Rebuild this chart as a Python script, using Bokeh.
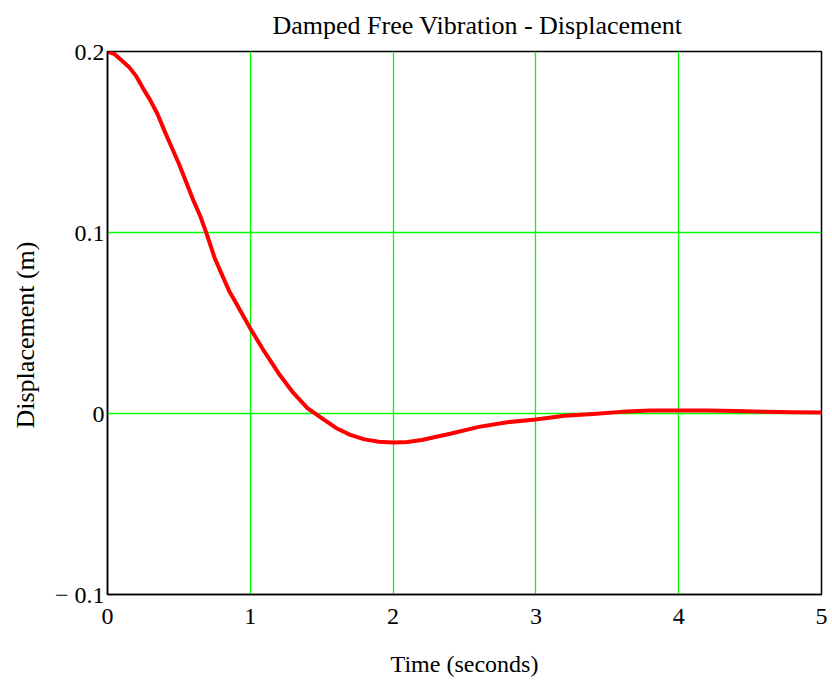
from bokeh.plotting import figure
from bokeh.models import Range1d, FixedTicker, Title, Grid
from bokeh.embed import file_html
from bokeh.resources import INLINE

time_s = [0.0, 0.05, 0.1, 0.15, 0.2, 0.25, 0.3, 0.35, 0.4, 0.45, 0.5, 0.55, 0.6, 0.65,
          0.7, 0.75, 0.8, 0.85, 0.9, 0.95, 1.0, 1.1, 1.2, 1.3, 1.4, 1.5, 1.6, 1.7, 1.8,
          1.9, 2.0, 2.1, 2.2, 2.4, 2.6, 2.8, 3.0, 3.2, 3.4, 3.6, 3.8, 4.0, 4.2, 4.4,
          4.6, 4.8, 5.0]
displacement_m = [0.200, 0.1985, 0.195, 0.1915, 0.1865, 0.1795, 0.173, 0.1655, 0.156,
                  0.147, 0.138, 0.128, 0.118, 0.109, 0.098, 0.086, 0.077, 0.068, 0.061,
                  0.054, 0.047, 0.034, 0.022, 0.0115, 0.003, -0.0025, -0.008, -0.0118,
                  -0.0143, -0.0156, -0.016, -0.0158, -0.0146, -0.0112, -0.0074, -0.0048,
                  -0.0033, -0.0013, -0.0003, 0.0009, 0.0016, 0.0017, 0.0017, 0.0014,
                  0.0010, 0.0007, 0.0006]

x_ticks = [0, 1, 2, 3, 4, 5]
y_ticks = [-0.1, 0, 0.1, 0.2]
y_tick_labels = {-0.1: "\u2212 0.1", 0: "0", 0.1: "0.1", 0.2: "0.2"}
x_grid_lines = [1, 2, 3, 4]
y_grid_lines = [0, 0.1]

title_text = "Damped Free Vibration - Displacement"
x_label_text = "Time (seconds)"
y_label_text = "Displacement (m)"

FONT = "Liberation Serif"

p = figure(width=832, height=680, output_backend="svg", toolbar_location=None,
           x_range=Range1d(0, 5), y_range=Range1d(-0.1, 0.2),
           min_border_left=106, min_border_right=11, min_border_top=51,
           min_border_bottom=86)

p.line(time_s, displacement_m, line_color="#ff0000", line_width=4, line_join="round")

p.xaxis.ticker = FixedTicker(ticks=x_ticks)
p.yaxis.ticker = FixedTicker(ticks=y_ticks)
p.yaxis.major_label_overrides = y_tick_labels

for ax in (p.xaxis, p.yaxis):
    ax.major_tick_line_color = None
    ax.minor_tick_line_color = None
    ax.major_tick_out = 0
    ax.major_tick_in = 0
    ax.axis_line_color = "black"
    ax.axis_line_width = 1.5
    ax.major_label_text_font = FONT
    ax.major_label_text_font_size = "24px"
    ax.major_label_text_color = "black"
    ax.axis_label_text_font = FONT
    ax.axis_label_text_font_style = "normal"
    ax.axis_label_text_color = "black"
p.xaxis.major_label_standoff = 14
p.xaxis.major_label_text_align = "left"
p.yaxis.major_label_standoff = 3

p.xaxis.axis_label = x_label_text
p.xaxis.axis_label_text_font_size = "24px"
p.xaxis.axis_label_standoff = 24

for g in p.select(type=Grid):
    g.grid_line_color = "#00ff00"
    g.grid_line_width = 1.3
p.xgrid.ticker = FixedTicker(ticks=x_grid_lines)
p.ygrid.ticker = FixedTicker(ticks=y_grid_lines)

p.outline_line_color = "black"
p.outline_line_width = 1.5
p.background_fill_color = "white"
p.border_fill_color = "white"

p.title.text = title_text
p.title.text_font = FONT
p.title.text_font_size = "26px"
p.title.text_font_style = "normal"
p.title.text_color = "black"
p.title.align = "left"
p.title.offset = 165
p.title.vertical_align = "top"
p.title.standoff = 20

p.add_layout(Title(text=y_label_text, text_font=FONT, text_font_size="26px",
                   text_font_style="normal", text_color="black",
                   align="left", offset=166, vertical_align="top",
                   standoff=20), "left")

open("out.html", "w").write(file_html(p, INLINE))
